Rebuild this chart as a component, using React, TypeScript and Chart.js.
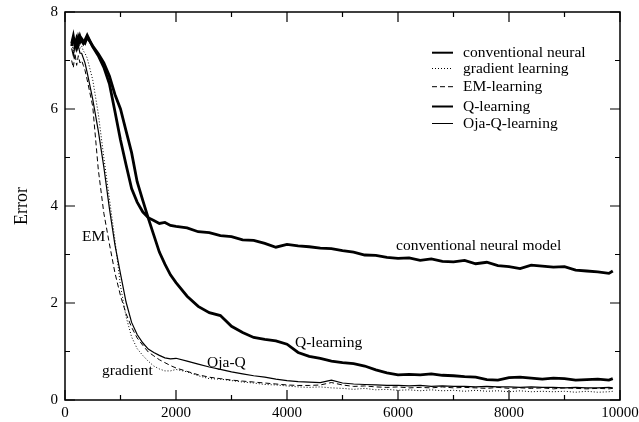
import React, { useEffect, useRef } from "react";
import { Chart, registerables } from "chart.js";

Chart.register(...registerables);

// ---------- data ----------
const xs = [
  120, 150, 180, 210, 240, 270, 300, 330, 360, 400,
  500, 600, 700, 800, 900, 1000, 1100, 1200, 1300, 1400, 1500, 1600, 1700, 1800, 1900, 2000,
  2200, 2400, 2600, 2800, 3000, 3200, 3400, 3600, 3800, 4000,
  4200, 4400, 4600, 4800, 5000, 5200, 5400, 5600, 5800, 6000,
  6200, 6400, 6600, 6800, 7000, 7200, 7400, 7600, 7800, 8000,
  8200, 8400, 8600, 8800, 9000, 9200, 9400, 9600, 9800, 9870,
];

const conventional = [
  7.35, 7.5, 7.3, 7.45, 7.35, 7.5, 7.4, 7.35, 7.42, 7.52,
  7.28, 7.1, 6.86, 6.52, 5.95, 5.36, 4.85, 4.36, 4.08, 3.88, 3.76, 3.7, 3.64, 3.66, 3.6, 3.58,
  3.55, 3.47, 3.45, 3.39, 3.37, 3.3, 3.29, 3.23, 3.15, 3.21,
  3.18, 3.16, 3.13, 3.12, 3.08, 3.05, 2.99, 2.98, 2.94, 2.92,
  2.93, 2.88, 2.91, 2.86, 2.85, 2.88, 2.81, 2.84, 2.77, 2.75,
  2.71, 2.78, 2.76, 2.74, 2.75, 2.68, 2.66, 2.64, 2.61, 2.66,
];

const gradient = [
  7.4, 7.2, 7.45, 7.3, 7.4, 7.25, 7.3, 7.2, 7.15, 7.05,
  6.6, 5.9, 5.0, 4.15, 3.3, 2.35, 1.72, 1.3, 1.06, 0.92, 0.8, 0.7, 0.64, 0.6, 0.6, 0.63,
  0.58, 0.5, 0.44, 0.43, 0.4, 0.37, 0.35, 0.32, 0.31, 0.29,
  0.27, 0.26, 0.27, 0.25, 0.24, 0.22, 0.24, 0.21, 0.22, 0.2,
  0.21, 0.19, 0.21, 0.19, 0.2, 0.18, 0.2, 0.18, 0.19, 0.17,
  0.19, 0.17, 0.18, 0.17, 0.18, 0.16, 0.18, 0.16, 0.17, 0.18,
];

const emLearning = [
  7.0, 6.85, 7.15, 6.9, 7.1, 6.95, 7.0, 6.9, 6.8, 6.6,
  6.05, 4.75, 3.85, 3.22, 2.62, 2.15, 1.78, 1.5, 1.28, 1.13, 0.99, 0.91, 0.83, 0.77, 0.71, 0.66,
  0.59, 0.52, 0.47, 0.44, 0.41, 0.39, 0.37, 0.35, 0.33, 0.31,
  0.3, 0.3, 0.31, 0.36, 0.31, 0.28, 0.29, 0.27, 0.26, 0.27,
  0.25, 0.26, 0.25, 0.27, 0.25, 0.26, 0.25, 0.24, 0.26, 0.24,
  0.25, 0.24, 0.25, 0.23, 0.25, 0.24, 0.23, 0.24, 0.23, 0.24,
];

const qLearning = [
  7.3, 7.45, 7.4, 7.3, 7.48, 7.38, 7.45, 7.4, 7.36, 7.48,
  7.3, 7.14, 6.95, 6.68, 6.3, 6.0, 5.55, 5.1, 4.5, 4.12, 3.75, 3.4, 3.05, 2.8, 2.58, 2.42,
  2.14, 1.93, 1.8, 1.74, 1.52, 1.39, 1.29, 1.25, 1.22, 1.15,
  0.98, 0.9, 0.86, 0.8, 0.77, 0.75, 0.7, 0.62, 0.56, 0.52,
  0.53, 0.52, 0.54, 0.51, 0.5, 0.48, 0.47, 0.42, 0.41, 0.46,
  0.47, 0.45, 0.43, 0.45, 0.44, 0.41, 0.42, 0.43, 0.41, 0.44,
];

const ojaQLearning = [
  7.25, 7.1, 7.35, 7.2, 7.3, 7.15, 7.15, 7.05, 6.95, 6.75,
  6.2, 5.55, 4.8, 3.95, 3.2, 2.6, 2.02, 1.6, 1.35, 1.18, 1.05, 0.98, 0.92, 0.87, 0.85, 0.86,
  0.8, 0.74, 0.68, 0.63, 0.58, 0.54, 0.5, 0.47, 0.43, 0.4,
  0.38, 0.37, 0.36, 0.41, 0.35, 0.33, 0.32, 0.31, 0.3, 0.3,
  0.29, 0.3, 0.28, 0.29, 0.28, 0.28, 0.27, 0.28, 0.27, 0.27,
  0.26, 0.27, 0.26, 0.26, 0.25, 0.26, 0.25, 0.25, 0.26, 0.25,
];

const seriesLabels = [
  "conventional neural",
  "gradient learning",
  "EM-learning",
  "Q-learning",
  "Oja-Q-learning",
];

const xTickValues = [0, 2000, 4000, 6000, 8000, 10000];
const xMinorTickValues = [1000, 3000, 5000, 7000, 9000];
const yTickValues = [0, 2, 4, 6, 8];
const yMinorTickValues = [1, 3, 5, 7];

const annotationTexts = ["EM", "gradient", "Oja-Q", "Q-learning", "conventional neural model"];
const annotationX = [306, 667, 2559, 4144, 5964];
const annotationY = [3.37, 0.6, 0.77, 1.17, 3.18];

// ---------- styling ----------
const SERIF = '"Liberation Serif", "Times New Roman", Times, serif';

function drawFrame(chart: any) {
  const ctx: CanvasRenderingContext2D = chart.ctx;
  const ca = chart.chartArea;
  const sx = chart.scales.x;
  const sy = chart.scales.y;
  ctx.save();
  ctx.setLineDash([]);
  ctx.strokeStyle = "#000";
  ctx.lineWidth = 1.2;
  ctx.beginPath();
  for (let i = 0; i < xTickValues.length; i++) {
    const p = sx.getPixelForValue(xTickValues[i]);
    ctx.moveTo(p, ca.bottom);
    ctx.lineTo(p, ca.bottom - 10);
    ctx.moveTo(p, ca.top);
    ctx.lineTo(p, ca.top + 10);
  }
  for (let i = 0; i < xMinorTickValues.length; i++) {
    const p = sx.getPixelForValue(xMinorTickValues[i]);
    ctx.moveTo(p, ca.bottom);
    ctx.lineTo(p, ca.bottom - 5);
    ctx.moveTo(p, ca.top);
    ctx.lineTo(p, ca.top + 5);
  }
  for (let i = 0; i < yTickValues.length; i++) {
    const p = sy.getPixelForValue(yTickValues[i]);
    ctx.moveTo(ca.left, p);
    ctx.lineTo(ca.left + 10, p);
    ctx.moveTo(ca.right, p);
    ctx.lineTo(ca.right - 10, p);
  }
  for (let i = 0; i < yMinorTickValues.length; i++) {
    const p = sy.getPixelForValue(yMinorTickValues[i]);
    ctx.moveTo(ca.left, p);
    ctx.lineTo(ca.left + 5, p);
    ctx.moveTo(ca.right, p);
    ctx.lineTo(ca.right - 5, p);
  }
  ctx.stroke();
  ctx.lineWidth = 1.5;
  ctx.strokeRect(ca.left, ca.top, ca.right - ca.left, ca.bottom - ca.top);
  ctx.restore();
}

const legendRows = [52.7, 68.5, 86.7, 106.5, 123.5];

function drawLabels(chart: any) {
  const ctx: CanvasRenderingContext2D = chart.ctx;
  const sx = chart.scales.x;
  const sy = chart.scales.y;
  ctx.save();
  ctx.fillStyle = "#000";
  ctx.font = `15.5px ${SERIF}`;
  ctx.textBaseline = "middle";
  ctx.textAlign = "left";
  annotationTexts.forEach((t, i) => {
    ctx.fillText(t, sx.getPixelForValue(annotationX[i]), sy.getPixelForValue(annotationY[i]));
  });
  const lx0 = chart.chartArea.right - 188;
  const lx1 = lx0 + 21;
  const tx = lx0 + 31;
  chart.data.datasets.forEach((ds: any, i: number) => {
    const yRow = legendRows[i];
    ctx.strokeStyle = "#000";
    ctx.lineWidth = ds.legendWidth;
    ctx.setLineDash(ds.borderDash || []);
    ctx.beginPath();
    ctx.moveTo(lx0, yRow);
    ctx.lineTo(lx1, yRow);
    ctx.stroke();
    ctx.setLineDash([]);
    ctx.fillText(ds.label, tx, yRow + 0.5);
  });
  ctx.restore();
}

const overlayPlugin = {
  id: "overlay",
  afterDraw(chart: any) {
    drawLabels(chart);
    drawFrame(chart);
  },
};

function toPoints(vals: number[]) {
  return xs.map((x, i) => ({ x, y: vals[i] }));
}

export default function App() {
  const canvasRef = useRef<HTMLCanvasElement | null>(null);

  useEffect(() => {
    if (!canvasRef.current) return;
    const seriesValues = [conventional, gradient, emLearning, qLearning, ojaQLearning];
    const widths = [2.8, 1, 1, 2.8, 1.2];
    const legendWidths = [2, 1, 1, 2, 1];
    const dashes: number[][] = [[], [1, 2], [5, 3], [], []];
    const chart = new Chart(canvasRef.current, {
      type: "line",
      data: {
        datasets: seriesValues.map((vals, i) => ({
          label: seriesLabels[i],
          data: toPoints(vals),
          borderColor: "#000",
          backgroundColor: "#000",
          borderWidth: widths[i],
          borderDash: dashes[i],
          legendWidth: legendWidths[i],
          pointRadius: 0,
          tension: 0,
          fill: false,
        })) as any,
      },
      options: {
        animation: false,
        responsive: true,
        maintainAspectRatio: false,
        layout: { padding: { left: 0, right: 19, top: 12, bottom: 0 } },
        plugins: {
          legend: { display: false },
          tooltip: { enabled: false },
        },
        scales: {
          x: {
            type: "linear",
            min: 0,
            max: 10000,
            afterBuildTicks: (scale: any) => {
              scale.ticks = xTickValues.map((v) => ({ value: v }));
            },
            afterFit: (scale: any) => {
              scale.height = 22;
              scale.paddingLeft = 0;
              scale.paddingRight = 0;
            },
            grid: { display: false, drawTicks: false },
            border: { display: false },
            ticks: {
              color: "#000",
              padding: 4,
              maxRotation: 0,
              autoSkip: false,
              font: { family: SERIF, size: 15 },
              callback: (v: any) => String(v),
            },
          },
          y: {
            type: "linear",
            min: 0,
            max: 8,
            afterBuildTicks: (scale: any) => {
              scale.ticks = yTickValues.map((v) => ({ value: v }));
            },
            afterFit: (scale: any) => {
              scale.width = 65;
              scale.paddingTop = 0;
              scale.paddingBottom = 0;
            },
            grid: { display: false, drawTicks: false },
            border: { display: false },
            title: {
              display: true,
              text: "Error",
              color: "#000",
              font: { family: SERIF, size: 18 },
              padding: { top: 11, bottom: 0 },
            },
            ticks: {
              color: "#000",
              padding: 7,
              autoSkip: false,
              font: { family: SERIF, size: 15 },
              callback: (v: any) => String(v),
            },
          },
        },
      },
      plugins: [overlayPlugin],
    });
    return () => chart.destroy();
  }, []);

  return (
    <div style={{ position: "fixed", left: 0, top: 0, width: 639, height: 422, background: "#fff" }}>
      <canvas ref={canvasRef} />
    </div>
  );
}
